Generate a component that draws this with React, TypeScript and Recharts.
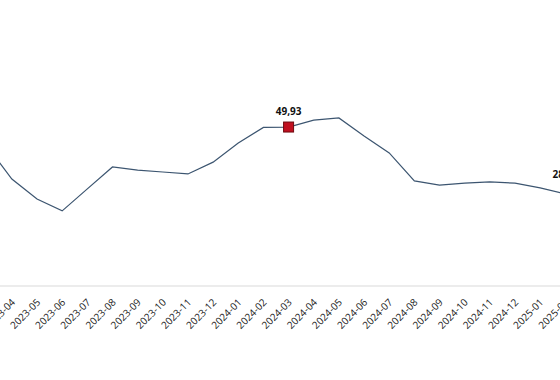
import React from "react";
import { LineChart, Line, XAxis, YAxis } from "recharts";

const months = [
  "2023-03", "2023-04", "2023-05", "2023-06", "2023-07", "2023-08", "2023-09", "2023-10",
  "2023-11", "2023-12", "2024-01", "2024-02", "2024-03", "2024-04", "2024-05", "2024-06",
  "2024-07", "2024-08", "2024-09", "2024-10", "2024-11", "2024-12", "2025-01", "2025-02",
];
const values = [
  44.1, 33.6, 27.3, 23.6, 30.5, 37.4, 36.4, 35.8,
  35.2, 38.9, 44.9, 49.8, 49.93, 52.1, 52.8, 47.1,
  41.8, 33.0, 31.7, 32.3, 32.7, 32.3, 30.8, 28.9,
];
const highlighted = ["2024-03"];
const labelled = ["2024-03", "2025-02"];

const data = months.map((m, i) => ({ month: m, value: values[i] }));

const fmt = (v: number) => v.toFixed(2).replace(".", ",");

const Tick = (props: any) => {
  const { x, y, payload } = props;
  const ax = x + 4;
  const ay = y + 17;
  return (
    <text
      x={ax}
      y={ay}
      transform={`rotate(-45, ${ax}, ${ay})`}
      textAnchor="end"
      fontSize={10}
      fontFamily="'Open Sans', 'Noto Sans', sans-serif"
      fill="#222"
    >
      {payload.value}
    </text>
  );
};

const Dot = (props: any) => {
  const { cx, cy, payload } = props;
  if (!payload || !highlighted.includes(payload.month)) return <g />;
  return (
    <rect
      x={cx - 5}
      y={cy - 5}
      width={10}
      height={10}
      fill="#c01020"
      stroke="#6e0a10"
      strokeWidth={1}
    />
  );
};

const Label = (props: any) => {
  const { x, y, index } = props;
  const m = months[index];
  if (!labelled.includes(m)) return <g />;
  const off = highlighted.includes(m) ? 12 : 16;
  return (
    <text
      x={x}
      y={y - off}
      textAnchor="middle"
      fontSize={10}
      fontWeight="bold"
      fontFamily="'Open Sans', 'Noto Sans', sans-serif"
      fill="#111"
    >
      {fmt(values[index])}
    </text>
  );
};

export default function App() {
  return (
    <div
      style={{
        position: "absolute",
        left: 0,
        top: 0,
        width: 560,
        height: 380,
        overflow: "hidden",
        background: "#fff",
      }}
    >
      <div style={{ position: "absolute", left: -40, top: 0 }}>
        <LineChart
          width={660}
          height={380}
          data={data}
          margin={{ top: 31.3, right: 54.7, left: 26.7, bottom: 34 }}
        >
          <XAxis
            dataKey="month"
            height={60}
            interval={0}
            tickLine={false}
            tickSize={0}
            tickMargin={0}
            axisLine={{ stroke: "#d9d9d9", strokeWidth: 1 }}
            tick={<Tick />}
          />
          <YAxis hide domain={[0, 80]} />
          <Line
            type="linear"
            dataKey="value"
            stroke="#3c5570"
            strokeWidth={1.2}
            dot={<Dot />}
            activeDot={false}
            label={<Label />}
            isAnimationActive={false}
          />
        </LineChart>
      </div>
    </div>
  );
}
